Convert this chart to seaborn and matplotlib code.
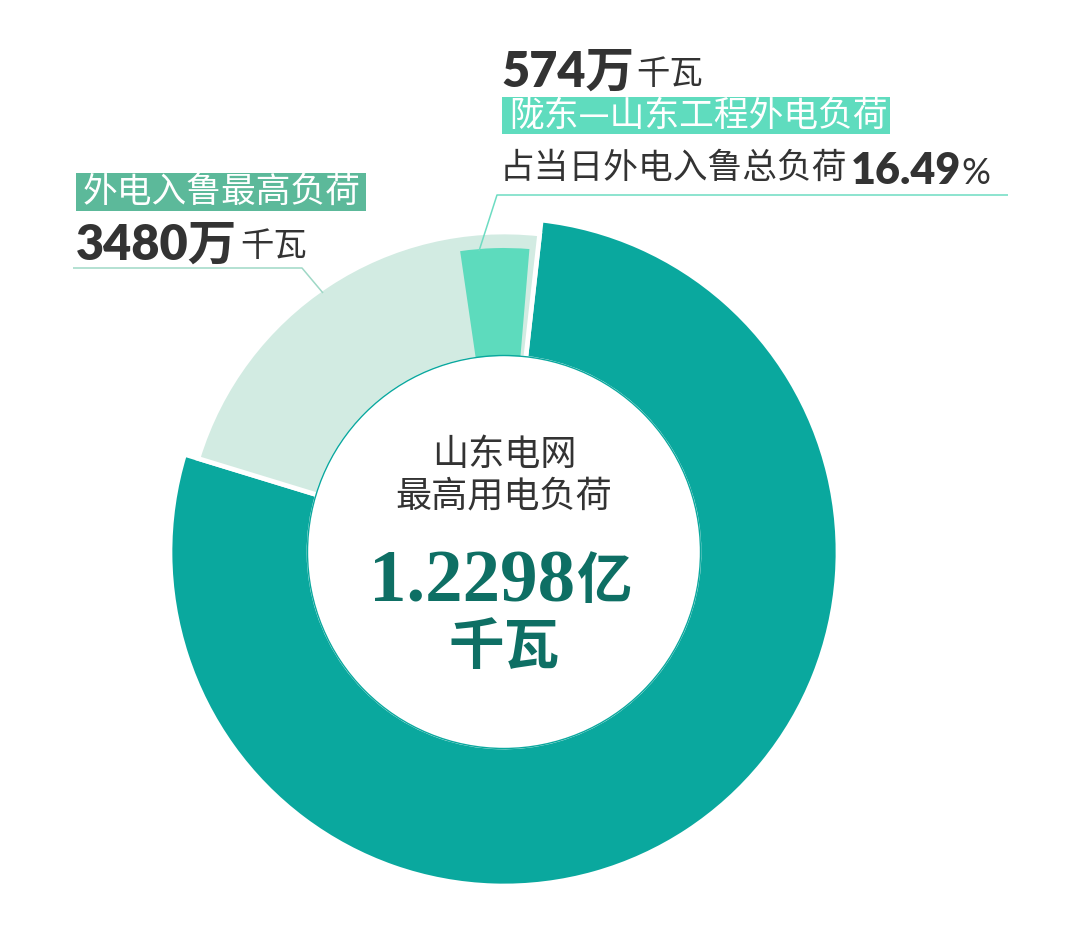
import numpy as np
import pandas as pd
import matplotlib
matplotlib.use("Agg")
import matplotlib.pyplot as plt
import seaborn as sns
from matplotlib.patches import Circle, Rectangle

# ---- data (万千瓦) ----
categories = ["山东电网最高用电负荷", "外电入鲁最高负荷", "陇东—山东工程外电负荷"]
total_load = 12298          # 1.2298亿千瓦
external_load = 3480        # 外电入鲁最高负荷
longdong_load = 574         # 陇东—山东工程外电负荷
share_label = "16.49"       # 占当日外电入鲁总负荷 %

ring_values = [total_load, external_load]
inner_values = [total_load, external_load - longdong_load, longdong_load]

# ---- style ----
sns.set_theme(style="white")
plt.rcParams["font.family"] = ["Noto Sans CJK SC", "DejaVu Sans"]

DARK = "#0aa89e"
LIGHT = "#d2ebe2"
MID = "#5ddbbd"
BOX_L = "#5cb99a"
BOX_R = "#5fdcbe"
TXT = "#333333"
CENTER_TXT = "#0e6f64"
LINE_L = "#9fd8c6"
LINE_R = "#6ddcc2"

W, H = 1080, 933
fig = plt.figure(figsize=(W / 100, H / 100), dpi=100)
ax = fig.add_axes([0, 0, 1, 1])

def Y(y):
    return H - y

cx, cy = 504, Y(552)
start = 83.6
inner_r = 195
gap_lw = 3.4

# outer dark ring (total load)
w1, _ = ax.pie(ring_values, radius=334, center=(cx, cy),
               startangle=start, counterclock=False, colors=[DARK, "none"],
               wedgeprops=dict(width=334 - inner_r, edgecolor="white", linewidth=gap_lw))
w1[1].set_visible(False)

# light ring (external load)
w2, _ = ax.pie(ring_values, radius=320, center=(cx, cy),
               startangle=start, counterclock=False, colors=["none", LIGHT],
               wedgeprops=dict(width=320 - inner_r, edgecolor="white", linewidth=gap_lw))
w2[0].set_visible(False)

# medium slice (陇东—山东)
w3, _ = ax.pie(inner_values, radius=304, center=(cx, cy),
               startangle=start + 1.6, counterclock=False, colors=["none", "none", MID],
               wedgeprops=dict(width=304 - inner_r - 1, edgecolor="none", linewidth=0))
w3[0].set_visible(False)
w3[1].set_visible(False)

ax.add_patch(Circle((cx, cy), inner_r + 1.5, fill=False, edgecolor=DARK, linewidth=1.0, zorder=3))

ax.set_xlim(0, W)
ax.set_ylim(0, H)
ax.set_aspect("equal")
ax.axis("off")

# ---- leader lines ----
ax.plot([73, 302, 323], [Y(268), Y(268), Y(293)], color=LINE_L, lw=1.1, solid_capstyle="butt")
ax.plot([1008, 497, 479], [Y(195), Y(195), Y(251)], color=LINE_R, lw=1.1, solid_capstyle="butt")

NUMF = ["Lato", "Noto Sans CJK SC"]
CJK = ["Noto Sans CJK SC", "DejaVu Sans"]

# ---- right annotation ----
ax.text(501, Y(87), f"{longdong_load}万", fontsize=35, fontweight="heavy", family=NUMF,
        color=TXT, ha="left", va="baseline")
ax.text(636, Y(84), "千瓦", fontsize=24, family=CJK, color=TXT, ha="left", va="baseline")
ax.add_patch(Rectangle((502, Y(134)), 388, 37, facecolor=BOX_R, edgecolor="none"))
ax.text(509, Y(116), categories[2], fontsize=25, family=CJK, color="white",
        ha="left", va="center")
ax.text(500, Y(168), "占当日外电入鲁总负荷", fontsize=25, family=CJK, color=TXT,
        ha="left", va="center")
ax.text(851, Y(184), share_label, fontsize=31, fontweight="heavy", family=NUMF,
        color=TXT, ha="left", va="baseline")
ax.text(961, Y(184), "%", fontsize=26, family=NUMF, color=TXT, ha="left", va="baseline")

# ---- left annotation ----
ax.add_patch(Rectangle((76, Y(211)), 290, 38, facecolor=BOX_L, edgecolor="none"))
ax.text(83, Y(192), categories[1], fontsize=25, family=CJK, color="white",
        ha="left", va="center")
ax.text(76, Y(260), f"{external_load}万", fontsize=35, fontweight="heavy", family=NUMF,
        color=TXT, ha="left", va="baseline")
ax.text(240, Y(256), "千瓦", fontsize=24, family=CJK, color=TXT, ha="left", va="baseline")

# ---- center ----
ax.text(cx, Y(455), "山东电网", fontsize=26, family=CJK, color=TXT, ha="center", va="center")
ax.text(cx, Y(496), "最高用电负荷", fontsize=26, family=CJK, color=TXT, ha="center", va="center")
ax.text(575, Y(602), f"{total_load / 10000:.4f}", fontsize=54, fontweight="bold",
        family=["Liberation Serif", "DejaVu Serif"], color=CENTER_TXT, ha="right", va="baseline")
ax.text(576, Y(598), "亿", fontsize=40, fontweight="bold", family=CJK, color=CENTER_TXT,
        ha="left", va="baseline")
ax.text(cx, Y(648), "千瓦", fontsize=40, fontweight="bold", family=CJK, color=CENTER_TXT,
        ha="center", va="center")

fig.savefig("out.png", dpi=100, facecolor="white")
